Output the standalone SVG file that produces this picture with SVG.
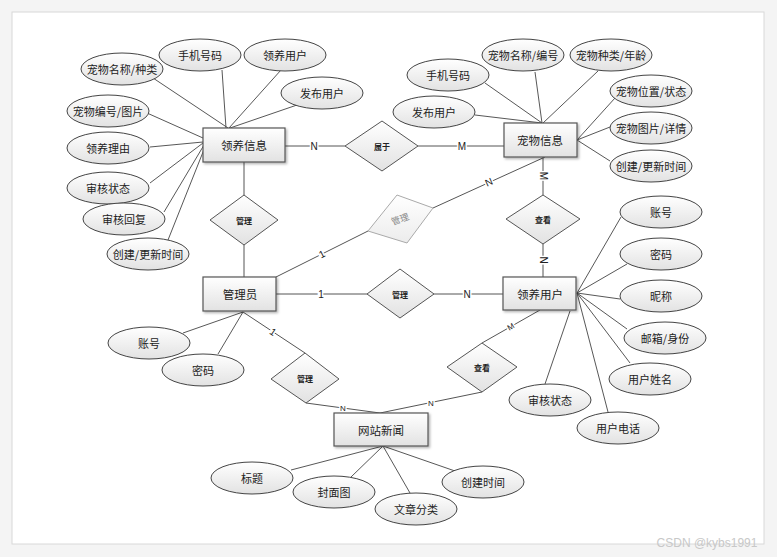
<svg xmlns="http://www.w3.org/2000/svg" width="777" height="557" viewBox="0 0 777 557">
<defs>
<linearGradient id="g" x1="0" y1="0" x2="0" y2="1"><stop offset="0" stop-color="#ffffff"/><stop offset="1" stop-color="#e2e2e2"/></linearGradient>
<linearGradient id="gf" x1="0" y1="0" x2="0" y2="1"><stop offset="0" stop-color="#ffffff"/><stop offset="1" stop-color="#ececec"/></linearGradient>
<filter id="sh" x="-10%" y="-10%" width="130%" height="140%"><feDropShadow dx="1.5" dy="1.5" stdDeviation="0.8" flood-color="#000" flood-opacity="0.3"/></filter>
</defs>
<style>
text{font-family:"Noto Sans CJK SC","Noto Sans",sans-serif;text-anchor:middle;dominant-baseline:central;fill:#222}
.ent rect{fill:url(#g);stroke:#555;stroke-width:1.2;filter:url(#sh)}
.ent text{font-size:11.5px}
.att ellipse{fill:url(#g);stroke:#444;stroke-width:1}
.att text{font-size:11px}
.rel polygon{fill:url(#g);stroke:#555;stroke-width:1}
.rel text{font-size:8px;font-weight:bold}
.faded polygon{fill:url(#gf);stroke:#aaa;stroke-width:1}
.faded text{font-size:9px;fill:#888;font-weight:normal}
#conn line{stroke:#555;stroke-width:1}
#lines line{stroke:#444;stroke-width:0.9}
.lbl{font-size:10px;font-family:"Liberation Sans",sans-serif;paint-order:stroke;stroke:#fff;stroke-width:3px;fill:#222}
</style>
<rect width="777" height="557" fill="#f4f4f4"/>
<rect x="12" y="12" width="752" height="532" fill="#fff" stroke="#d8d8d8" stroke-width="1"/>

<g id="lines">
<line x1="153" y1="78" x2="228" y2="128"/>
<line x1="222" y1="70" x2="226" y2="128"/>
<line x1="281" y1="70" x2="229" y2="128"/>
<line x1="297" y1="105" x2="230" y2="128"/>
<line x1="147" y1="113" x2="203" y2="138"/>
<line x1="150" y1="147" x2="203" y2="142"/>
<line x1="150" y1="183" x2="203" y2="143"/>
<line x1="164" y1="212" x2="204" y2="145"/>
<line x1="168" y1="240" x2="205" y2="147"/>
<line x1="485" y1="83" x2="542" y2="123"/>
<line x1="535" y1="72" x2="542" y2="123"/>
<line x1="598" y1="71" x2="543" y2="123"/>
<line x1="475" y1="115" x2="542" y2="123"/>
<line x1="615" y1="98" x2="577" y2="140"/>
<line x1="610" y1="127" x2="577" y2="140"/>
<line x1="610" y1="161" x2="577" y2="140"/>
<line x1="621" y1="217" x2="577" y2="293"/>
<line x1="627" y1="264" x2="577" y2="293"/>
<line x1="620" y1="299" x2="577" y2="293"/>
<line x1="627" y1="329" x2="577" y2="293"/>
<line x1="630" y1="363" x2="577" y2="293"/>
<line x1="608" y1="412" x2="577" y2="293"/>
<line x1="570" y1="311" x2="545" y2="384"/>
<line x1="243" y1="312" x2="183" y2="333"/>
<line x1="243" y1="312" x2="218" y2="354"/>
<line x1="383" y1="446" x2="291" y2="470"/>
<line x1="383" y1="446" x2="351" y2="477"/>
<line x1="383" y1="446" x2="410" y2="493"/>
<line x1="383" y1="446" x2="455" y2="471"/>
</g>

<g id="conn">
<line x1="285" y1="146" x2="345" y2="146"/>
<line x1="418" y1="146" x2="504" y2="146"/>
<line x1="244" y1="162" x2="244" y2="195"/>
<line x1="244" y1="245" x2="244" y2="277"/>
<line x1="276" y1="277" x2="368" y2="231"/>
<line x1="433" y1="208" x2="545" y2="157"/>
<line x1="543" y1="157" x2="543" y2="195"/>
<line x1="543" y1="244" x2="543" y2="277"/>
<line x1="276" y1="294" x2="367" y2="294"/>
<line x1="434" y1="294" x2="503" y2="294"/>
<line x1="243" y1="312" x2="305" y2="353"/>
<line x1="306" y1="403" x2="380" y2="413"/>
<line x1="380" y1="413" x2="482" y2="392"/>
<line x1="482" y1="343" x2="540" y2="310"/>
<text class="lbl" x="314" y="146">N</text>
<text class="lbl" x="462" y="146">M</text>
<text class="lbl" x="322" y="254" transform="rotate(-27 322 254)">1</text>
<text class="lbl" x="489" y="182" transform="rotate(-24 489 182)">N</text>
<text class="lbl" x="543" y="176" transform="rotate(90 543 176)">M</text>
<text class="lbl" x="543" y="260" transform="rotate(90 543 260)">N</text>
<text class="lbl" x="321" y="294">1</text>
<text class="lbl" x="467" y="294">N</text>
<text class="lbl" x="273" y="332" transform="rotate(34 273 332)">1</text>
<text class="lbl" x="343" y="408" style="font-size:8px">N</text>
<text class="lbl" x="431" y="403" style="font-size:8px">N</text>
<text class="lbl" x="511" y="327" style="font-size:8px" transform="rotate(-30 511 327)">M</text>
</g>

<g id="rel-shuyu" class="rel"><polygon points="345,146 382,121 418,146 382,171"/><text x="382" y="146">属于</text></g>
<g id="rel-guanli1" class="rel"><polygon points="210,220 244,195 278,220 244,245"/><text x="244" y="220">管理</text></g>
<g id="rel-guanli-faded" class="rel faded"><polygon points="368,231 397,195 433,208 407,243"/><text x="400" y="219" transform="rotate(-20 400 219)">管理</text></g>
<g id="rel-chakan1" class="rel"><polygon points="506,219 543,195 580,219 543,244"/><text x="543" y="219">查看</text></g>
<g id="rel-guanli2" class="rel"><polygon points="367,294 400,269 434,294 400,318"/><text x="400" y="294">管理</text></g>
<g id="rel-chakan2" class="rel"><polygon points="447,367 482,343 517,367 482,392"/><text x="482" y="367">查看</text></g>
<g id="rel-guanli3" class="rel"><polygon points="271,379 305,353 339,379 306,403"/><text x="305" y="378">管理</text></g>

<g id="ent-lingyangxinxi" class="ent"><rect x="203" y="128" width="82" height="34"/><text x="244" y="145">领养信息</text></g>
<g id="ent-chongwuxinxi" class="ent"><rect x="504" y="123" width="73" height="34"/><text x="540" y="140">宠物信息</text></g>
<g id="ent-guanliyuan" class="ent"><rect x="203" y="277" width="73" height="34"/><text x="240" y="294">管理员</text></g>
<g id="ent-lingyangyonghu" class="ent"><rect x="503" y="277" width="73" height="33"/><text x="540" y="294">领养用户</text></g>
<g id="ent-wangzhanxinwen" class="ent"><rect x="334" y="413" width="94" height="33"/><text x="381" y="430">网站新闻</text></g>

<g id="att-l1" class="att"><ellipse cx="122" cy="69" rx="41" ry="16"/><text x="122" y="69">宠物名称/种类</text></g>
<g id="att-l2" class="att"><ellipse cx="200" cy="55" rx="41" ry="16"/><text x="200" y="55">手机号码</text></g>
<g id="att-l3" class="att"><ellipse cx="285" cy="55" rx="41" ry="16"/><text x="285" y="55">领养用户</text></g>
<g id="att-l4" class="att"><ellipse cx="322" cy="93" rx="41" ry="16"/><text x="322" y="93">发布用户</text></g>
<g id="att-l5" class="att"><ellipse cx="108" cy="111" rx="41" ry="16"/><text x="108" y="111">宠物编号/图片</text></g>
<g id="att-l6" class="att"><ellipse cx="108" cy="148" rx="41" ry="16"/><text x="108" y="148">领养理由</text></g>
<g id="att-l7" class="att"><ellipse cx="108" cy="188" rx="41" ry="16"/><text x="108" y="188">审核状态</text></g>
<g id="att-l8" class="att"><ellipse cx="124" cy="219" rx="41" ry="16"/><text x="124" y="219">审核回复</text></g>
<g id="att-l9" class="att"><ellipse cx="148" cy="254" rx="41" ry="16"/><text x="148" y="254">创建/更新时间</text></g>

<g id="att-c1" class="att"><ellipse cx="523" cy="55" rx="41" ry="16"/><text x="523" y="55">宠物名称/编号</text></g>
<g id="att-c2" class="att"><ellipse cx="611" cy="55" rx="41" ry="16"/><text x="611" y="55">宠物种类/年龄</text></g>
<g id="att-c3" class="att"><ellipse cx="448" cy="75" rx="41" ry="16"/><text x="448" y="75">手机号码</text></g>
<g id="att-c4" class="att"><ellipse cx="434" cy="112" rx="41" ry="16"/><text x="434" y="112">发布用户</text></g>
<g id="att-c5" class="att"><ellipse cx="651" cy="91" rx="41" ry="16"/><text x="651" y="91">宠物位置/状态</text></g>
<g id="att-c6" class="att"><ellipse cx="651" cy="128" rx="41" ry="16"/><text x="651" y="128">宠物图片/详情</text></g>
<g id="att-c7" class="att"><ellipse cx="651" cy="166" rx="41" ry="16"/><text x="651" y="166">创建/更新时间</text></g>

<g id="att-u1" class="att"><ellipse cx="661" cy="212" rx="41" ry="16"/><text x="661" y="212">账号</text></g>
<g id="att-u2" class="att"><ellipse cx="661" cy="254" rx="41" ry="16"/><text x="661" y="254">密码</text></g>
<g id="att-u3" class="att"><ellipse cx="661" cy="296" rx="41" ry="16"/><text x="661" y="296">昵称</text></g>
<g id="att-u4" class="att"><ellipse cx="665" cy="338" rx="41" ry="16"/><text x="665" y="338">邮箱/身份</text></g>
<g id="att-u5" class="att"><ellipse cx="650" cy="379" rx="41" ry="16"/><text x="650" y="379">用户姓名</text></g>
<g id="att-u6" class="att"><ellipse cx="550" cy="400" rx="41" ry="16"/><text x="550" y="400">审核状态</text></g>
<g id="att-u7" class="att"><ellipse cx="618" cy="428" rx="41" ry="16"/><text x="618" y="428">用户电话</text></g>

<g id="att-a1" class="att"><ellipse cx="149" cy="343" rx="41" ry="16"/><text x="149" y="343">账号</text></g>
<g id="att-a2" class="att"><ellipse cx="203" cy="370" rx="41" ry="16"/><text x="203" y="370">密码</text></g>

<g id="att-n1" class="att"><ellipse cx="252" cy="478" rx="41" ry="16"/><text x="252" y="478">标题</text></g>
<g id="att-n2" class="att"><ellipse cx="334" cy="492" rx="41" ry="16"/><text x="334" y="492">封面图</text></g>
<g id="att-n3" class="att"><ellipse cx="416" cy="509" rx="41" ry="16"/><text x="416" y="509">文章分类</text></g>
<g id="att-n4" class="att"><ellipse cx="483" cy="482" rx="41" ry="16"/><text x="483" y="482">创建时间</text></g>

<text x="707" y="543" style="font-size:12px;fill:#c8c8c8;font-family:'Liberation Sans',sans-serif">CSDN @kybs1991</text>
</svg>
